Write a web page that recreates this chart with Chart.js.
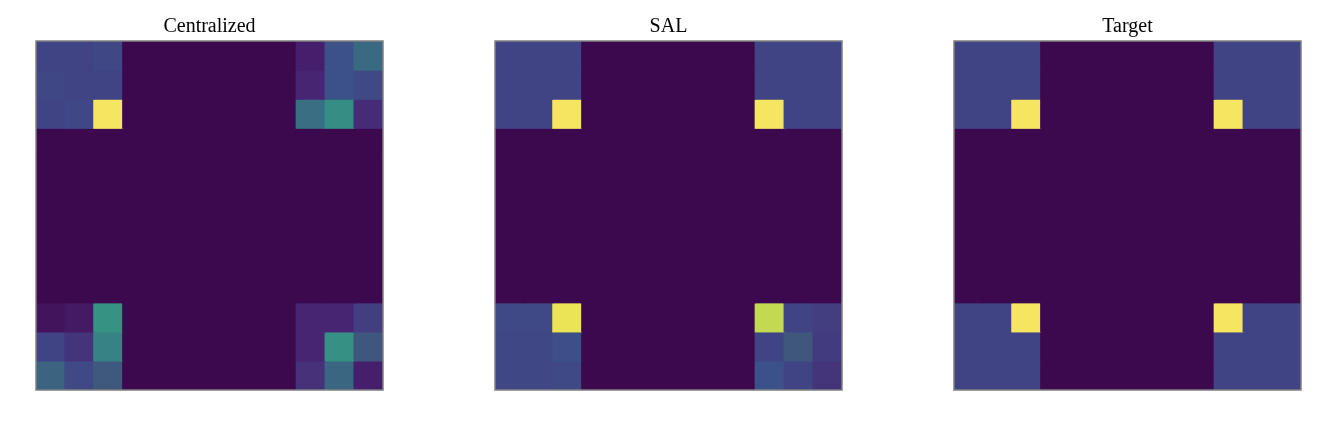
<!DOCTYPE html>
<html>
<head>
<meta charset="utf-8">
<script src="https://cdn.jsdelivr.net/npm/chart.js@4"></script>
<style>
  body { margin: 0; background: #fff; width: 1324px; height: 426px; overflow: hidden; }
  .panel { position: absolute; top: 0; width: 349px; height: 426px; }
</style>
</head>
<body>
<div class="panel" style="left:35px"><canvas id="c0"></canvas></div>
<div class="panel" style="left:494px"><canvas id="c1"></canvas></div>
<div class="panel" style="left:953px"><canvas id="c2"></canvas></div>
<script>
// titles of the three panels
const titles = ["Centralized", "SAL", "Target"]
const cols = ["0","1","2","3","4","5","6","7","8","9","10","11"]

// corner blocks (3x3) of each 12x12 grid, rows top->bottom; everything else is 0
const centralizedTL = [[0.20,0.20,0.21],[0.21,0.20,0.20],[0.20,0.21,1.00]]
const centralizedTR = [[0.08,0.25,0.36],[0.10,0.25,0.22],[0.38,0.52,0.12]]
const centralizedBL = [[0.04,0.06,0.55],[0.20,0.15,0.47],[0.33,0.22,0.28]]
const centralizedBR = [[0.10,0.10,0.18],[0.10,0.54,0.27],[0.14,0.34,0.08]]

const salTL = [[0.20,0.20,0.20],[0.20,0.20,0.20],[0.20,0.20,1.00]]
const salTR = [[0.20,0.20,0.20],[0.20,0.20,0.20],[1.00,0.20,0.20]]
const salBL = [[0.22,0.22,0.98],[0.21,0.21,0.24],[0.21,0.21,0.22]]
const salBR = [[0.91,0.20,0.18],[0.20,0.27,0.17],[0.25,0.20,0.15]]

const targetTL = [[0.20,0.20,0.20],[0.20,0.20,0.20],[0.20,0.20,1.00]]
const targetTR = [[0.20,0.20,0.20],[0.20,0.20,0.20],[1.00,0.20,0.20]]
const targetBL = [[0.20,0.20,1.00],[0.20,0.20,0.20],[0.20,0.20,0.20]]
const targetBR = [[1.00,0.20,0.20],[0.20,0.20,0.20],[0.20,0.20,0.20]]

// viridis colour stops (ends slightly adjusted to the picture)
const viridis = ["#3e0850","#482475","#414487","#355f8d","#2a788e","#21918c","#22a884","#44bf70","#7ad151","#bddf26","#f6e65a"]

function hex(h) { return [1,3,5].map(i => parseInt(h.substr(i,2),16)) }
function colorOf(v) {
    v = Math.max(0, Math.min(1, v)) * 10
    let i = Math.min(9, Math.floor(v)), t = v - i
    let a = hex(viridis[i]), b = hex(viridis[i+1])
    let c = a.map((x,k) => x + (b[k]-x)*t)
    // the reference looks a bit washed out in the middle tones
    let lum = 0.3*c[0] + 0.59*c[1] + 0.11*c[2]
    let s = (v > 2.5 && v < 9.5) ? 0.25 : 0.05
    c = c.map(x => Math.round(x*(1-s) + lum*s))
    return `rgb(${c[0]},${c[1]},${c[2]})`
}

function buildGrid(tl, tr, bl, br) { // 12x12 grid from the four corners
    let g = []
    for (let r = 0; r < 12; r++) {
        let row = []
        for (let c = 0; c < 12; c++) {
            let v = 0
            if (r < 3 && c < 3) v = tl[r][c]
            else if (r < 3 && c > 8) v = tr[r][c-9]
            else if (r > 8 && c < 3) v = bl[r-9][c]
            else if (r > 8 && c > 8) v = br[r-9][c-9]
            row.push(v)
        }
        g.push(row)
    }
    return g
}

const grids = [
    buildGrid(centralizedTL, centralizedTR, centralizedBL, centralizedBR),
    buildGrid(salTL, salTR, salBL, salBR),
    buildGrid(targetTL, targetTR, targetBL, targetBR)
]

const framePlugin = { //рамка і заголовок
    id: "frame",
    afterDraw(chart, args, opts) {
        const ctx = chart.ctx, a = chart.chartArea
        ctx.save()
        ctx.fillStyle = "#fff" // clip the inflated bars outside the frame
        ctx.fillRect(0, a.bottom, chart.width, chart.height - a.bottom)
        ctx.fillRect(0, 0, chart.width, a.top)
        ctx.fillRect(0, 0, a.left, chart.height)
        ctx.fillRect(a.right, 0, chart.width - a.right, chart.height)
        ctx.strokeStyle = "#808080"
        ctx.lineWidth = 1.5
        ctx.strokeRect(a.left, a.top, a.right - a.left, a.bottom - a.top)
        ctx.fillStyle = "#000"
        ctx.font = "20px 'Liberation Serif', 'DejaVu Serif', serif"
        ctx.textAlign = "center"
        ctx.textBaseline = "alphabetic"
        ctx.fillText(opts.text, (a.left + a.right) / 2, 32)
        ctx.restore()
    }
}

grids.forEach((grid, p) => {
    const datasets = grid.map((row, r) => ({
        label: "row " + r,
        data: row.map(() => 1),
        backgroundColor: row.map(colorOf),
        borderWidth: 0,
        inflateAmount: 0.6,
        barPercentage: 1,
        categoryPercentage: 1
    }))
    new Chart(document.getElementById("c" + p), {
        type: "bar",
        data: { labels: cols, datasets: datasets },
        options: {
            responsive: true,
            maintainAspectRatio: false,
            animation: false,
            layout: { padding: { top: 41, bottom: 36, left: 1, right: 1 } },
            plugins: { legend: { display: false }, tooltip: { enabled: false }, frame: { text: titles[p] } },
            scales: {
                x: { stacked: true, display: false },
                y: { stacked: true, display: false, min: 0, max: 12, reverse: true }
            }
        },
        plugins: [framePlugin]
    })
})
</script>
</body>
</html>
